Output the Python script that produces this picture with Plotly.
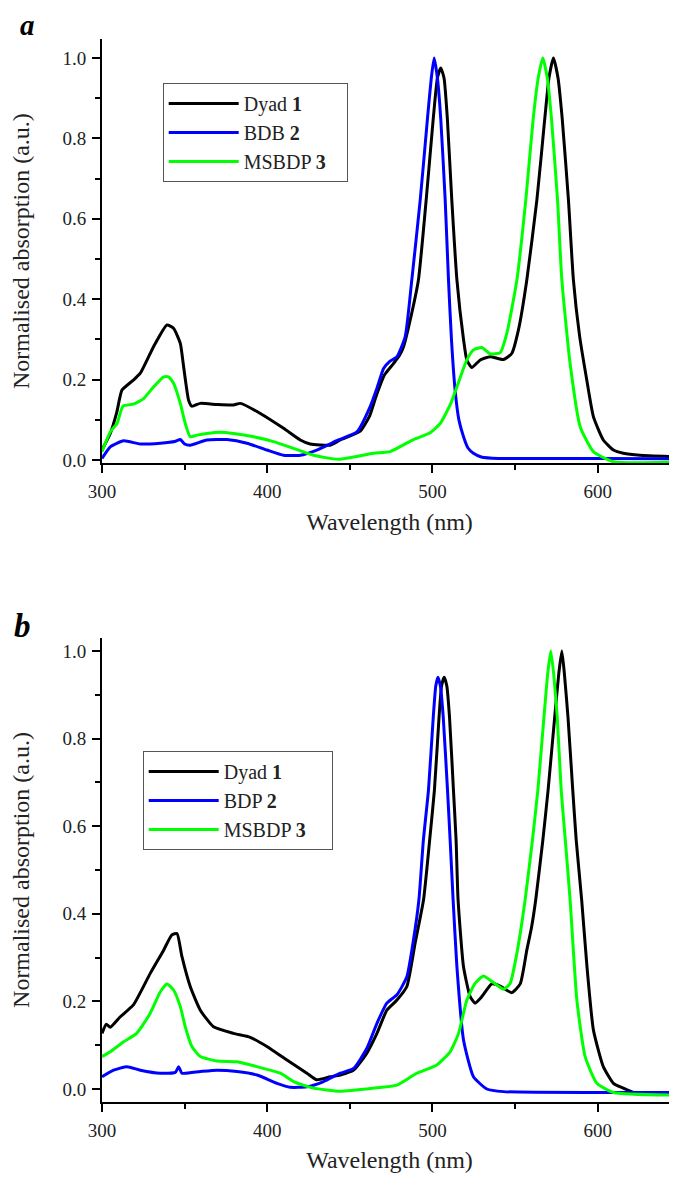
import plotly.graph_objects as go

# ---------------- Panel a ----------------
wl_a_dyad = [300, 305, 309, 312.1, 319, 323.2, 331.2, 339.3, 343.3, 347.4, 349.4, 352.4, 354.4, 359.5, 370,
             379.6, 383.7, 395.8, 409.9, 420, 426, 438.1, 444.2, 456.3, 462, 466, 471, 476.4, 480, 482.5,
             486.5, 491.5, 496.2, 500.5, 503, 505, 507, 509, 511.7, 514.8, 518.8, 520.8, 523.8, 528.9,
             534.9, 543, 548, 552, 557.1, 563.2, 568, 570.5, 573.2, 576, 578.5, 582.3, 585.3, 589, 593.4,
             597.4, 603.4, 609.5, 615.5, 625.6, 648.5]
abs_a_dyad = [0.025, 0.066, 0.12, 0.174, 0.199, 0.216, 0.282, 0.336, 0.328, 0.29, 0.232, 0.149, 0.134, 0.141,
              0.138, 0.137, 0.141, 0.116, 0.079, 0.05, 0.04, 0.037, 0.05, 0.072, 0.11, 0.16, 0.212, 0.24,
              0.26, 0.282, 0.348, 0.448, 0.647, 0.85, 0.95, 0.975, 0.95, 0.85, 0.647, 0.448, 0.3, 0.249,
              0.23, 0.249, 0.257, 0.25, 0.265, 0.323, 0.448, 0.647, 0.85, 0.95, 1.0, 0.95, 0.85, 0.647,
              0.448, 0.31, 0.199, 0.108, 0.05, 0.025, 0.017, 0.012, 0.008]

wl_a_bdb = [300, 305, 313.1, 323.2, 335.3, 344, 347.4, 350, 353.4, 363.5, 375.6, 387.7, 399.8, 409.9, 420,
            430, 443.1, 454.3, 462.3, 466.5, 470.4, 474, 478.5, 483.5, 487.5, 492.6, 497, 499.3, 501, 503,
            505, 507.7, 509.7, 511.5, 513.7, 516, 518.8, 521.5, 524.8, 530, 540, 600, 648.5]
abs_a_bdb = [0.004, 0.033, 0.048, 0.04, 0.042, 0.046, 0.051, 0.04, 0.037, 0.05, 0.051, 0.042, 0.025, 0.012,
             0.012, 0.025, 0.05, 0.07, 0.133, 0.18, 0.228, 0.245, 0.257, 0.307, 0.448, 0.647, 0.85, 0.95,
             1.0, 0.95, 0.85, 0.647, 0.448, 0.3, 0.174, 0.1, 0.058, 0.03, 0.017, 0.007, 0.004, 0.004, 0.003]

wl_a_msbdp = [300, 305, 309.1, 312.7, 319, 325.2, 331.2, 337.3, 340.3, 343.3, 347.4, 350.4, 353.4, 357.5,
              363.5, 371.6, 379.6, 391.7, 403.8, 415.9, 428, 443.1, 464.3, 474.4, 488.5, 498.6, 504.7,
              510.7, 514.8, 520.8, 524.8, 529.9, 534.9, 541, 545, 551.1, 556.5, 561, 564, 566.8, 569.5,
              572, 575.7, 578.3, 583.3, 589.4, 597.4, 609.5, 648.5]
abs_a_msbdp = [0.021, 0.07, 0.091, 0.134, 0.139, 0.153, 0.182, 0.207, 0.207, 0.191, 0.141, 0.091, 0.058,
               0.062, 0.066, 0.069, 0.066, 0.058, 0.046, 0.029, 0.012, 0.002, 0.017, 0.021, 0.051, 0.068,
               0.091, 0.137, 0.182, 0.249, 0.274, 0.28, 0.264, 0.267, 0.315, 0.448, 0.647, 0.85, 0.95, 1.0,
               0.95, 0.85, 0.647, 0.448, 0.24, 0.083, 0.021, -0.004, -0.005]

# ---------------- Panel b ----------------
wl_b_dyad = [300, 302.6, 305, 311.1, 319, 329.2, 337.3, 342.3, 345.4, 348.4, 353.4, 359.5, 367.5, 379.6,
             389.7, 399.8, 411.9, 424, 430, 438.1, 444.2, 452.3, 460.3, 466.4, 472.4, 478.5, 484.5, 489.5,
             494.6, 498.3, 501.2, 504, 505.5, 507.1, 508.7, 510.3, 512.7, 514.3, 515.5, 518.8, 522.8,
             525.8, 529.9, 535.9, 541, 548, 553.1, 557.1, 560, 562.5, 566.8, 570, 574, 576.5, 578.3, 579.8,
             582, 584.9, 587, 590.3, 593.5, 597.4, 603.4, 609.5, 615.5, 621.6, 635.6, 648.5]
abs_b_dyad = [0.127, 0.148, 0.141, 0.165, 0.192, 0.264, 0.317, 0.352, 0.355, 0.302, 0.234, 0.18, 0.142,
              0.127, 0.118, 0.097, 0.066, 0.036, 0.021, 0.028, 0.032, 0.043, 0.082, 0.127, 0.18, 0.203,
              0.234, 0.333, 0.432, 0.568, 0.683, 0.85, 0.92, 0.94, 0.92, 0.85, 0.683, 0.568, 0.432, 0.279,
              0.211, 0.196, 0.211, 0.24, 0.235, 0.22, 0.24, 0.317, 0.37, 0.432, 0.568, 0.683, 0.85, 0.95,
              1.0, 0.95, 0.85, 0.683, 0.568, 0.432, 0.28, 0.135, 0.051, 0.013, 0.002, -0.008, -0.011, -0.01]

wl_b_bdp = [300, 307, 315.1, 323.2, 335.3, 344.4, 346.4, 348.4, 359.5, 369.6, 381.7, 393.8, 405.9, 413.9,
            424, 434.1, 444.2, 452.3, 460.3, 466.4, 472.4, 478.5, 484.5, 488.5, 491.8, 494.5, 497.6, 500.5,
            502, 503.3, 504.8, 506.5, 509.1, 510.7, 512.5, 514.8, 518.8, 524.8, 532.9, 543, 600, 648.5]
abs_b_bdp = [0.028, 0.043, 0.051, 0.043, 0.036, 0.038, 0.051, 0.036, 0.04, 0.043, 0.04, 0.032, 0.013, 0.004,
             0.005, 0.017, 0.036, 0.047, 0.093, 0.15, 0.196, 0.215, 0.256, 0.34, 0.432, 0.568, 0.683, 0.85,
             0.92, 0.94, 0.92, 0.85, 0.683, 0.568, 0.432, 0.279, 0.112, 0.028, 0.0, -0.006, -0.008, -0.008]

wl_b_msbdp = [300, 305, 313.1, 321, 329.2, 335.3, 339.3, 343.3, 347.4, 350.4, 354.4, 359.5, 369.6, 381.7,
              393.8, 407.9, 415.9, 428, 444.2, 464.3, 478.5, 490.5, 502.6, 510.7, 515.8, 520.8, 525.8,
              530.8, 536.9, 543, 547, 551.1, 556.1, 560.5, 563.8, 567.5, 569.8, 571.6, 573.3, 575.5, 577.9,
              580.4, 583.3, 587.4, 592.4, 599.5, 609.5, 648.5]
abs_b_msbdp = [0.074, 0.085, 0.108, 0.127, 0.173, 0.222, 0.24, 0.226, 0.188, 0.142, 0.097, 0.074, 0.064,
               0.062, 0.051, 0.036, 0.017, 0.002, -0.005, 0.002, 0.009, 0.036, 0.055, 0.085, 0.127, 0.203,
               0.241, 0.258, 0.243, 0.228, 0.241, 0.31, 0.432, 0.568, 0.683, 0.85, 0.95, 1.0, 0.95, 0.85,
               0.683, 0.568, 0.432, 0.203, 0.074, 0.013, -0.008, -0.014]

names_a = ["Dyad <b>1</b>", "BDB <b>2</b>", "MSBDP <b>3</b>" + "&nbsp;" * 3]
names_b = ["Dyad <b>1</b>", "BDP <b>2</b>", "MSBDP <b>3</b>" + "&nbsp;" * 4]
colors = ["#000000", "#0000FF", "#00FF00"]

x_ticks = [300, 400, 500, 600]
y_ticks = [0.0, 0.2, 0.4, 0.6, 0.8, 1.0]

FONT = "Liberation Serif, Times New Roman, serif"
# page body adds an 8px offset; figure is sized so it ends exactly at the window edge
OFF = 8
W, H = 677 - OFF, 1180 - OFF
L = 94

def fy(page_y):
    return 1 - (page_y - OFF) / H

def fx(page_x):
    return (page_x - OFF - L) / (W - L)

fig = go.Figure()
series_a = [(wl_a_dyad, abs_a_dyad), (wl_a_bdb, abs_a_bdb), (wl_a_msbdp, abs_a_msbdp)]
series_b = [(wl_b_dyad, abs_b_dyad), (wl_b_bdp, abs_b_bdp), (wl_b_msbdp, abs_b_msbdp)]
for (xs, ys), nm, c in zip(series_a, names_a, colors):
    fig.add_trace(go.Scatter(x=xs, y=ys, name=nm, mode="lines",
                             line=dict(color=c, width=3, shape="spline", smoothing=0.5),
                             xaxis="x", yaxis="y", legend="legend"))
for (xs, ys), nm, c in zip(series_b, names_b, colors):
    fig.add_trace(go.Scatter(x=xs, y=ys, name=nm, mode="lines",
                             line=dict(color=c, width=3, shape="spline", smoothing=0.5),
                             xaxis="x2", yaxis="y2", legend="legend2"))

def xax(anchor):
    return dict(range=[300, 648], domain=[0, 1], anchor=anchor, showgrid=False, zeroline=False,
                automargin=False,
                showline=True, linecolor="black", linewidth=2, ticks="outside", ticklen=8, tickwidth=2,
                tickcolor="black", tickvals=x_ticks, ticktext=[str(v) for v in x_ticks],
                ticklabelstandoff=2,
                minor=dict(ticks="outside", ticklen=5, tickwidth=2, tickcolor="black", dtick=50, tick0=300),
                tickfont=dict(family=FONT, size=19, color="#222"),
                title=dict(text="Wavelength (nm)", font=dict(family=FONT, size=24, color="#222"), standoff=12))

def yax(anchor, rng, dom):
    return dict(range=rng, domain=dom, anchor=anchor, showgrid=False, zeroline=False,
                automargin=False,
                showline=True, linecolor="black", linewidth=2, ticks="outside", ticklen=8, tickwidth=2,
                tickcolor="black", tickvals=y_ticks, ticktext=["%.1f" % v for v in y_ticks],
                ticklabelstandoff=2,
                minor=dict(ticks="outside", ticklen=5, tickwidth=2, tickcolor="black", dtick=0.1, tick0=0),
                tickfont=dict(family=FONT, size=19, color="#222"),
                title=dict(text="Normalised absorption (a.u.)", font=dict(family=FONT, size=24, color="#222"),
                           standoff=28))

fig.update_layout(
    width=W, height=H, margin=dict(l=L, r=0, t=0, b=0, autoexpand=False),
    paper_bgcolor="white", plot_bgcolor="white",
    xaxis=xax("y"), yaxis=yax("x", [-0.008, 1.047], [fy(463.3), fy(39)]),
    xaxis2=xax("y2"), yaxis2=yax("x2", [-0.029, 1.029], [fy(1101.7), fy(638.3)]),
    legend=dict(x=fx(162.7), y=fy(83), xanchor="left", yanchor="top",
                bordercolor="#555", borderwidth=1, bgcolor="white", itemwidth=70,
                font=dict(family=FONT, size=20, color="#222")),
    legend2=dict(x=fx(142.7), y=fy(751), xanchor="left", yanchor="top",
                 bordercolor="#555", borderwidth=1, bgcolor="white", itemwidth=70,
                 font=dict(family=FONT, size=20, color="#222")),
    annotations=[
        dict(text="<b><i>a</i></b>", xref="paper", yref="paper", x=fx(18), y=fy(7),
             xanchor="left", yanchor="top", showarrow=False, font=dict(family=FONT, size=29, color="black")),
        dict(text="<b><i>b</i></b>", xref="paper", yref="paper", x=fx(12), y=fy(606),
             xanchor="left", yanchor="top", showarrow=False, font=dict(family=FONT, size=33, color="black")),
    ],
)

fig.write_html("out.html")
